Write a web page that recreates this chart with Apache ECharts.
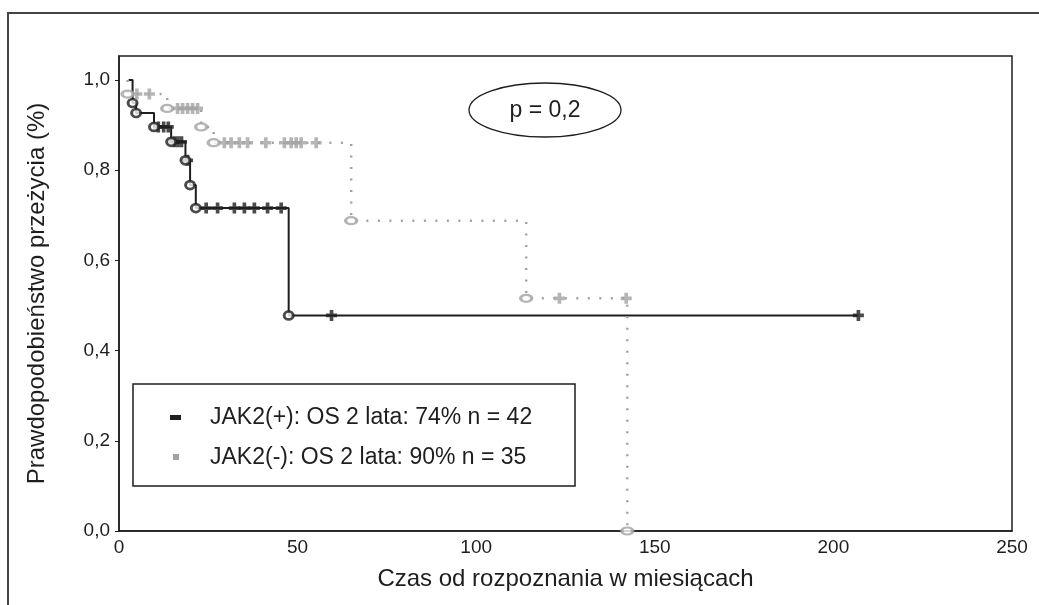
<!DOCTYPE html>
<html>
<head>
<meta charset="utf-8">
<script src="https://cdn.jsdelivr.net/npm/echarts@6/dist/echarts.min.js"></script>
<style>
html, body { margin: 0; padding: 0; background: #fff; }
#chart { width: 1039px; height: 605px; }
</style>
</head>
<body>
<div id="chart"></div>
<script>
// JAK2(+): step points (time in months, survival after the step)
var posTimes = [2.7, 3.8, 4.8, 9.8, 14.6, 18.6, 19.9, 21.5, 47.5, 207];
var posSurv = [1.0, 0.949, 0.927, 0.896, 0.863, 0.822, 0.767, 0.716, 0.478, 0.478];
var posCensored = [11, 12.5, 13.8, 15.5, 16.5, 17.5, 19.2, 24.4, 27.6, 32.3, 35.1, 37.9, 41.6, 45.4, 59.5, 207];
// JAK2(-)
var negTimes = [2.4, 2.4, 13.5, 23, 26.5, 65, 114, 142.3];
var negSurv = [1.0, 0.969, 0.937, 0.896, 0.861, 0.688, 0.516, 0.0];
var negCensored = [5, 8.5, 16.4, 17.8, 19.2, 20.6, 22, 29.5, 31.4, 33.7, 36, 41.1, 46.3, 48.2, 49.6, 51, 55.2, 123.3, 142];
var xTicks = [0, 50, 100, 150, 200, 250];
var yTicks = [0, 0.2, 0.4, 0.6, 0.8, 1.0];
var legendNames = ['JAK2(+): OS 2 lata: 74% n = 42', 'JAK2(-): OS 2 lata: 90% n = 35'];
var pText = 'p = 0,2';

var FONT = '"Liberation Sans", Arial, sans-serif';
var BLACK = '#1e1e1e', GRAY = '#a2a2a2';
var PLUS = 'path://M3,0h3v3h3v3h-3v3h-3v-3h-3v-3h3z';

function survAt(times, surv, t) {
  var s = surv[0];
  for (var i = 0; i < times.length; i++) { if (times[i] <= t) s = surv[i]; }
  return s;
}
function stepPts(times, surv) {
  return times.map(function (t, i) { return [t, surv[i]]; });
}
function eventPts(times, surv) {
  var r = [];
  for (var i = 1; i < times.length; i++) {
    if (surv[i] < surv[i - 1]) r.push([times[i], surv[i]]);
  }
  return r;
}
function censPts(cens, times, surv) {
  return cens.map(function (t) { return [t, survAt(times, surv, t)]; });
}

var chart = echarts.init(document.getElementById('chart'), null, { renderer: 'canvas' });
var option = {
  animation: false,
  backgroundColor: '#fff',
  grid: { left: 119, right: 27, top: 56, bottom: 74, show: true, borderColor: BLACK, borderWidth: 1.5 },
  xAxis: {
    type: 'value', min: 0, max: 250, interval: 50,
    name: 'Czas od rozpoznania w miesiącach', nameLocation: 'middle', nameGap: 36,
    nameTextStyle: { fontFamily: FONT, fontSize: 24, color: BLACK },
    axisLine: { show: true, lineStyle: { color: BLACK, width: 1.5 } },
    axisTick: { show: false },
    splitLine: { show: false },
    axisLabel: { customValues: xTicks, fontFamily: FONT, fontSize: 19, color: BLACK, margin: 7 }
  },
  yAxis: {
    type: 'value', min: 0, max: 1.0533, interval: 0.2,
    name: 'Prawdopodobieństwo przeżycia (%)', nameLocation: 'middle', nameGap: 70,
    nameTextStyle: { fontFamily: FONT, fontSize: 24, color: BLACK },
    axisLine: { show: true, lineStyle: { color: BLACK, width: 1.5 } },
    axisTick: { show: true, customValues: yTicks, length: 4, lineStyle: { color: BLACK } },
    splitLine: { show: false },
    axisLabel: {
      customValues: yTicks, fontFamily: FONT, fontSize: 19, color: BLACK, margin: 9,
      formatter: function (v) { return v.toFixed(1).replace('.', ','); }
    }
  },
  series: [
    {
      type: 'line', step: 'end', showSymbol: false, data: stepPts(posTimes, posSurv),
      lineStyle: { color: BLACK, width: 2 }, z: 3
    },
    {
      type: 'scatter', symbol: PLUS, symbolSize: 11, data: censPts(posCensored, posTimes, posSurv),
      itemStyle: { color: BLACK }, z: 4
    },
    {
      type: 'scatter', symbol: 'circle', symbolSize: [9, 8], data: eventPts(posTimes, posSurv),
      itemStyle: { color: '#fff', borderColor: BLACK, borderWidth: 2.8 }, z: 5
    },
    {
      type: 'line', step: 'end', showSymbol: false, data: stepPts(negTimes, negSurv),
      lineStyle: { color: GRAY, width: 2.5, type: [2, 9.5] }, z: 6
    },
    {
      type: 'scatter', symbol: PLUS, symbolSize: 11, data: censPts(negCensored, negTimes, negSurv),
      itemStyle: { color: GRAY }, z: 7
    },
    {
      type: 'scatter', symbol: 'circle', symbolSize: [11, 7], data: eventPts(negTimes, negSurv),
      itemStyle: { color: '#fff', borderColor: GRAY, borderWidth: 2.8 }, z: 8
    }
  ],
  graphic: [
    { type: 'polyline', shape: { points: [[8, 605], [8, 13], [1039, 13]] }, style: { stroke: '#444', lineWidth: 2, fill: null } },
    { type: 'ellipse', shape: { cx: 545, cy: 110, rx: 76, ry: 27 }, style: { stroke: BLACK, lineWidth: 1.3, fill: '#fff' }, z: 10 },
    { type: 'text', x: 545, y: 111, z: 11, style: { text: pText, font: '23px ' + FONT, fill: BLACK, align: 'center', verticalAlign: 'middle' } },
    { type: 'rect', shape: { x: 133, y: 384, width: 442, height: 102 }, style: { stroke: BLACK, lineWidth: 1.5, fill: '#fff' }, z: 10 },
    { type: 'rect', shape: { x: 170, y: 415, width: 11, height: 5 }, style: { fill: BLACK }, z: 11 },
    { type: 'rect', shape: { x: 173, y: 454, width: 6, height: 6 }, style: { fill: GRAY }, z: 11 },
    { type: 'text', x: 210, y: 418, z: 11, style: { text: legendNames[0], font: '23px ' + FONT, fill: BLACK, verticalAlign: 'middle' } },
    { type: 'text', x: 210, y: 458, z: 11, style: { text: legendNames[1], font: '23px ' + FONT, fill: BLACK, verticalAlign: 'middle' } }
  ]
};
chart.setOption(option);
</script>
</body>
</html>
